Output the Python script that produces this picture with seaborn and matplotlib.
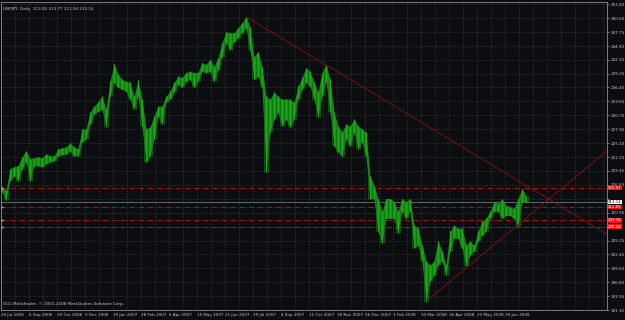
"""GBPJPY daily chart in the MetaTrader look, drawn with seaborn/matplotlib."""
import matplotlib

matplotlib.use("Agg")
import matplotlib.pyplot as plt
import numpy as np
import pandas as pd
import seaborn as sns

# price band, one sample every 4 screen px (high / low of that slice)
highs = [
    216.24, 215.49, 219.88, 220.28, 220.49, 222.31, 223.52, 221.90, 222.10, 222.31,
    222.10, 222.91, 222.51, 222.51, 223.93, 224.13, 224.33, 225.14, 224.33, 223.93,
    227.97, 227.97, 231.41, 232.62, 233.43, 234.65, 232.02, 237.68, 241.32, 239.10,
    238.09, 237.68, 237.48, 234.65, 237.88, 234.04, 227.97, 228.38, 230.60, 232.62,
    232.62, 234.65, 235.66, 237.48, 238.69, 238.49, 239.50, 239.71, 239.50, 239.50,
    241.53, 241.12, 242.13, 240.72, 242.54, 245.57, 247.80, 247.59, 247.59, 248.61,
    249.62, 250.83, 248.81, 242.74, 243.75, 240.72, 234.65, 234.04, 235.46, 234.65,
    234.04, 234.04, 234.04, 233.43, 236.67, 238.49, 240.51, 239.71, 237.48, 235.46,
    239.50, 241.12, 238.09, 231.41, 228.58, 227.36, 228.98, 228.58, 229.99, 228.58,
    227.97, 227.36, 218.46, 216.44, 213.81, 211.18, 213.81, 213.81, 213.20, 211.18,
    213.81, 213.20, 213.81, 208.35, 207.74, 204.30, 201.06, 200.26, 201.06, 205.11,
    203.09, 200.26, 207.13, 208.35, 207.74, 207.74, 204.30, 205.11, 204.30, 207.13,
    209.16, 209.76, 211.18, 213.20, 212.80, 213.81, 212.39, 212.19, 211.79, 213.81,
    215.83, 214.42,
]
lows = [
    215.23, 213.47, 217.51, 218.46, 217.45, 219.88, 221.29, 217.45, 220.49, 220.49,
    220.28, 220.89, 221.29, 221.50, 222.51, 222.71, 222.91, 223.52, 222.51, 222.51,
    225.34, 225.95, 228.98, 231.00, 231.61, 232.02, 228.38, 234.65, 237.48, 236.47,
    236.06, 235.66, 234.04, 232.02, 234.65, 228.58, 221.29, 222.51, 225.95, 230.60,
    228.98, 233.43, 234.04, 235.46, 237.07, 236.47, 237.68, 238.09, 236.47, 237.68,
    239.71, 239.50, 239.71, 237.68, 240.11, 242.74, 245.57, 244.16, 245.77, 246.58,
    247.59, 248.61, 244.16, 238.09, 238.69, 236.47, 219.27, 227.36, 229.99, 231.41,
    228.58, 229.99, 228.38, 229.99, 234.04, 236.06, 237.48, 236.67, 234.04, 230.40,
    234.65, 237.68, 231.41, 224.53, 223.32, 222.51, 225.95, 224.53, 227.36, 223.93,
    225.34, 222.51, 213.81, 213.81, 207.13, 204.71, 209.76, 209.76, 209.76, 206.73,
    211.18, 209.76, 211.18, 203.69, 204.30, 201.06, 192.77, 197.02, 198.23, 200.26,
    201.06, 198.23, 203.09, 205.72, 205.72, 203.69, 200.05, 202.28, 203.09, 205.11,
    206.32, 207.13, 209.76, 211.18, 211.18, 209.76, 210.37, 210.37, 209.76, 208.15,
    213.20, 213.20,
]

date_labels = [
    "24 Jul 2006", "6 Sep 2006", "20 Oct 2006", "5 Dec 2006", "19 Jan 2007",
    "28 Feb 2007", "6 Apr 2007", "15 May 2007", "21 Jun 2007", "29 Jul 2007",
    "4 Sep 2007", "11 Oct 2007", "18 Nov 2007", "26 Dec 2007", "1 Feb 2008",
    "10 Mar 2008", "16 Apr 2008", "23 May 2008", "30 Jun 2008",
]
price_ticks = [
    253.40, 250.60, 247.75, 244.90, 242.10, 239.25, 236.45, 233.60, 230.75, 227.95,
    225.10, 222.25, 219.45, 216.60, 213.80, 210.95, 208.10, 205.25, 202.45, 199.60,
    196.80, 193.95, 191.10,
]
# tick labels hidden behind the price boxes on the scale
covered_ticks = [213.80, 208.10]

# horizontal levels (dash-dot red) and the bid line
levels = [215.97, 212.05, 209.36, 208.08]
bid = 213.14

# trendlines: anchor + end point (sample index, price)
trend_down_x = [61.2, 151.5]
trend_down_p = [250.77, 206.43]
trend_up_x = [105.9, 151.5]
trend_up_p = [192.77, 223.72]

BG = "#0c0d10"
GREEN = "#168c16"
TXT = "#c8c8c8"
GRID = "#4a4f57"
RED = "#c01818"
DARKRED = "#8a1010"

sns.set_theme(style="dark", rc={
    "axes.facecolor": BG, "figure.facecolor": BG, "axes.edgecolor": "#8a8f96",
    "text.color": TXT, "xtick.color": TXT, "ytick.color": TXT,
})
plt.rcParams["font.family"] = ["DejaVu Sans"]

df = pd.DataFrame({"i": np.arange(len(highs)), "high": highs, "low": lows})

fig = plt.figure(figsize=(6.25, 3.2), dpi=100)
ax = fig.add_axes([1 / 625, 1 - 310 / 320, 606 / 625, 308 / 320])
ax.set_xlim(-0.25, 151.25)
ax.set_ylim(191.56, 253.87)

# grid
ax.set_yticks(price_ticks)
ax.set_yticklabels(["" if v in covered_ticks else f"{v:.2f}" for v in price_ticks])
grid_x = np.arange(0, 44) * 3.5 - 0.25
ax.set_xticks(grid_x)
ax.set_xticklabels([date_labels[k // 2] if k % 2 == 0 and k // 2 < len(date_labels) else ""
                    for k in range(len(grid_x))], ha="left")
ax.grid(True, color=GRID, linestyle=(0, (1, 2)), linewidth=0.5)
ax.yaxis.tick_right()
ax.tick_params(axis="both", labelsize=3, length=1.5, width=0.4, pad=1)
for s in ax.spines.values():
    s.set_linewidth(0.6)

# price band: filled high/low envelope, thin bars on top for texture
ax.fill_between(df["i"], df["low"], df["high"], color=GREEN, lw=0, zorder=3)
ax.vlines(df["i"], df["low"], df["high"], color="#22a822", lw=0.9, zorder=3)
mid_top = np.minimum(df["high"], df["high"].shift(-1)).fillna(df["high"])
mid_bot = np.minimum(df["low"], df["low"].shift(-1)).fillna(df["low"])
ax.vlines(df["i"] + 0.5, mid_bot, mid_top, color="#107010", lw=0.5, zorder=3)

# level lines
for lv in levels:
    ax.axhline(lv, color=RED, lw=0.6, linestyle=(0, (6, 2, 1, 2)), zorder=2)
    ax.plot(-0.1, lv, marker="s", ms=1.3, color="#ff9090", mec="none", zorder=5,
            clip_on=False)
    ax.text(1.002, lv, f"{lv:.2f}", transform=ax.get_yaxis_transform(), fontsize=2.8,
            color="white", va="center", ha="left", zorder=6,
            bbox=dict(boxstyle="square,pad=0.05", fc="#ff1010", ec="none"))
ax.axhline(bid, color="#5d6975", lw=0.7, zorder=2)
ax.text(1.002, bid, f"{bid:.2f}", transform=ax.get_yaxis_transform(), fontsize=2.8,
        color="black", va="center", ha="left", zorder=6,
        bbox=dict(boxstyle="square,pad=0.05", fc="white", ec="none"))

# trendlines
sns.lineplot(x=trend_down_x, y=trend_down_p, ax=ax, color=DARKRED, lw=0.6, zorder=4)
sns.lineplot(x=trend_up_x, y=trend_up_p, ax=ax, color=DARKRED, lw=0.6, zorder=4)

ax.text(0.004, 0.985, "GBPJPY, Daily  213.05 213.77 211.94 213.14", transform=ax.transAxes,
        fontsize=3, color=TXT, va="top", ha="left")
ax.text(0.004, 0.012, "OOL MetaTrader, \u00a9 2001-2008 MetaQuotes Software Corp.",
        transform=ax.transAxes, fontsize=3, color=TXT, va="bottom", ha="left")

fig.savefig("out.png", dpi=100, facecolor=BG)
